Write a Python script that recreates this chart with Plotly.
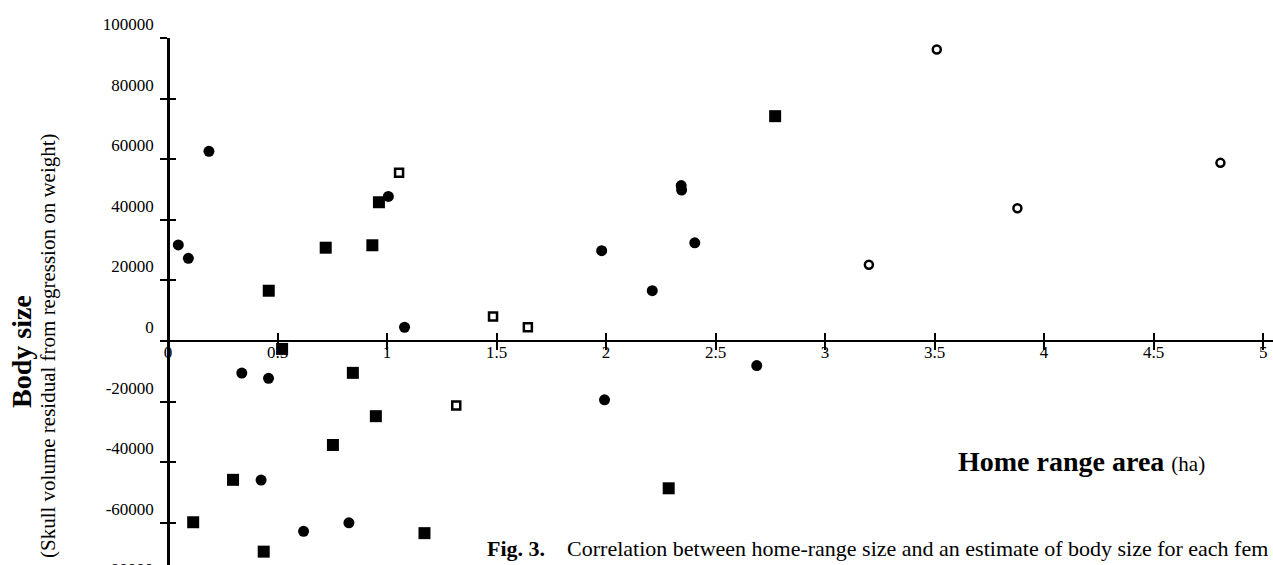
import plotly.graph_objects as go

# ---------------- data ----------------
# filled circles
CIRC_X = [0.047, 0.093, 0.187, 0.337, 0.459, 0.425, 0.619, 0.826, 1.006, 1.080,
          1.980, 1.993, 2.211, 2.343, 2.345, 2.405, 2.688]
CIRC_Y = [31700, 27300, 62600, -10560, -12300, -45900, -62800, -60000, 47700, 4550,
          29800, -19400, 16600, 51300, 49800, 32400, -8100]
# filled squares
SQ_X = [0.460, 0.521, 0.720, 0.933, 0.963, 0.844, 0.949, 0.753, 0.297, 2.286,
        0.115, 1.171, 0.437, 2.772]
SQ_Y = [16600, -2600, 30800, 31600, 45800, -10500, -24800, -34300, -45800, -48600,
        -59800, -63400, -69500, 74200]
# open squares
OSQ_X = [1.055, 1.484, 1.643, 1.316]
OSQ_Y = [55500, 8100, 4550, -21300]
# open circles
OCIRC_X = [3.200, 3.510, 3.878, 4.805]
OCIRC_Y = [25200, 96200, 43800, 58800]

X_TICKS = [0, 0.5, 1, 1.5, 2, 2.5, 3, 3.5, 4, 4.5, 5]
X_TICK_LABELS = ["0", "0.5", "1", "1.5", "2", "2.5", "3", "3.5", "4", "4.5", "5"]
Y_TICKS = [100000, 80000, 60000, 40000, 20000, 0, -20000, -40000, -60000]
Y_TICK_LABELS = ["100000", "80000", "60000", "40000", "20000", "0",
                 "-20000", "-40000", "-60000"]
Y_EXTRA_TICK = -80000
Y_EXTRA_LABEL = "-80000"

X_MIN, X_MAX = -0.0228, 5.045
Y_MIN, Y_MAX = -73910, 100000

FONT = "Liberation Serif, Times New Roman, serif"

W, H = 1273, 565
ML, MR, MT, MB = 163, 0, 38, 0

# positions of crossing axes (fraction of plot area)
pos_yaxis = (0 - X_MIN) / (X_MAX - X_MIN)
pos_xaxis = (0 - Y_MIN) / (Y_MAX - Y_MIN)

fig = go.Figure()
common = dict(mode="markers", showlegend=False, cliponaxis=False, hoverinfo="x+y")
fig.add_trace(go.Scatter(x=CIRC_X, y=CIRC_Y, name="filled circles",
                         marker=dict(symbol="circle", size=11, color="black"), **common))
fig.add_trace(go.Scatter(x=SQ_X, y=SQ_Y, name="filled squares",
                         marker=dict(symbol="square", size=12, color="black"), **common))
fig.add_trace(go.Scatter(x=OSQ_X, y=OSQ_Y, name="open squares",
                         marker=dict(symbol="square-open", size=8, color="black",
                                     line=dict(width=2.5, color="black")), **common))
fig.add_trace(go.Scatter(x=OCIRC_X, y=OCIRC_Y, name="open circles",
                         marker=dict(symbol="circle-open", size=8, color="black",
                                     line=dict(width=2.5, color="black")), **common))
# helper trace for the overlay axes (crossing tick marks)
fig.add_trace(go.Scatter(x=[], y=[], xaxis="x2", yaxis="y2", showlegend=False,
                         hoverinfo="skip"))

tickfont = dict(family=FONT, size=17, color="black")

fig.update_layout(
    width=W, height=H,
    margin=dict(l=ML, r=MR, t=MT, b=MB, pad=0),
    template="none",
    paper_bgcolor="white", plot_bgcolor="white",
    font=dict(family=FONT, color="black"),
    xaxis=dict(range=[X_MIN, X_MAX], anchor="free", position=pos_xaxis,
               showline=True, linecolor="black", linewidth=2,
               ticks="outside", ticklen=8, tickwidth=2, tickcolor="black",
               tickmode="array", tickvals=X_TICKS, ticktext=X_TICK_LABELS,
               tickfont=tickfont, showgrid=False, zeroline=False,
               ticklabelstandoff=-12),
    yaxis=dict(range=[Y_MIN, Y_MAX], anchor="free", position=pos_yaxis,
               showline=True, linecolor="black", linewidth=2.5,
               ticks="outside", ticklen=7, tickwidth=2, tickcolor="black",
               tickmode="array", tickvals=Y_TICKS, ticktext=Y_TICK_LABELS,
               tickfont=tickfont, showgrid=False, zeroline=False,
               ticklabelshift=-14, ticklabelstandoff=3),
    xaxis2=dict(range=[X_MIN, X_MAX], overlaying="x", anchor="free", position=pos_xaxis,
                showline=False, ticks="inside", ticklen=8, tickwidth=2, tickcolor="black",
                tickmode="array", tickvals=X_TICKS, showticklabels=False,
                showgrid=False, zeroline=False),
    yaxis2=dict(range=[Y_MIN, Y_MAX], overlaying="y", anchor="free", position=pos_yaxis,
                showline=False, ticks="inside", ticklen=7, tickwidth=2, tickcolor="black",
                tickmode="array", tickvals=Y_TICKS, showticklabels=False,
                showgrid=False, zeroline=False),
)

pw = W - ML - MR
ph = H - MT - MB


def px_to_paper(px, py):
    return (px - ML) / pw, (H - MB - py) / ph


ann = []
# partially visible bottom tick label
ann.append(dict(xref="paper", yref="paper", x=pos_yaxis,
                y=(Y_EXTRA_TICK - Y_MIN) / (Y_MAX - Y_MIN),
                xanchor="right", yanchor="middle", xshift=-13, yshift=14,
                text=Y_EXTRA_LABEL, showarrow=False, font=tickfont))
x, y = px_to_paper(21, 352)
ann.append(dict(xref="paper", yref="paper", x=x, y=y, xanchor="center", yanchor="middle",
                textangle=-90, showarrow=False, text="<b>Body size</b>",
                font=dict(family=FONT, size=28, color="black")))
x, y = px_to_paper(48, 346)
ann.append(dict(xref="paper", yref="paper", x=x, y=y, xanchor="center", yanchor="middle",
                textangle=-90, showarrow=False,
                text="(Skull volume residual from regression on weight)",
                font=dict(family=FONT, size=21, color="black")))
x, y = px_to_paper(956, 461)
ann.append(dict(xref="paper", yref="paper", x=x, y=y, xanchor="left", yanchor="middle",
                showarrow=False,
                text="<b>Home range area</b> <span style='font-size:21px'>(ha)</span>",
                font=dict(family=FONT, size=28, color="black")))
x, y = px_to_paper(485, 548)
ann.append(dict(xref="paper", yref="paper", x=x, y=y, xanchor="left", yanchor="middle",
                showarrow=False,
                text="<b>Fig. 3.</b>\u00a0\u00a0\u00a0\u00a0Correlation between home-range size "
                     "and an estimate of body size for each fem",
                font=dict(family=FONT, size=22, color="black")))
fig.update_layout(annotations=ann)

fig.write_html("out.html", config={"displayModeBar": False},
               post_script="document.body.style.margin='0';")
